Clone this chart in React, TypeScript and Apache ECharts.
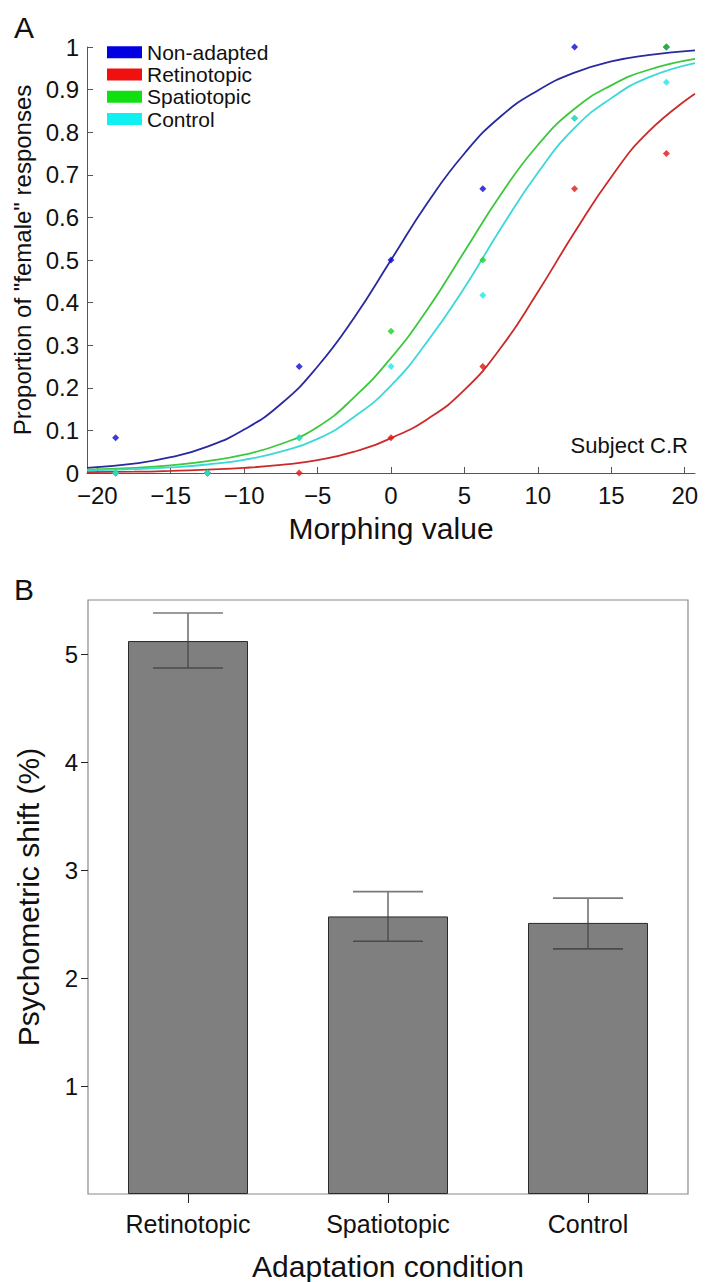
import React, { useEffect, useRef } from 'react';
import * as echarts from 'echarts';

// ---------- Panel A data ----------
const morphX = [-18.75, -12.5, -6.25, 0, 6.25, 12.5, 18.75];
const nonAdaptedPts = [0.083, 0, 0.25, 0.5, 0.667, 1.0, 1.0];
const retinotopicPts = [0, 0, 0, 0.083, 0.25, 0.667, 0.75];
const spatiotopicPts = [0, 0, 0.083, 0.333, 0.5, 0.833, 1.0];
const controlPts = [0, 0, 0.083, 0.25, 0.417, 0.833, 0.917];

const fitX = [-20.7, -17.5, -15, -12.5, -10, -7.5, -5, -2.5, 0, 2.5, 5, 7.5, 10, 12.5, 15, 17.5, 20.7];
const nonAdaptedFit = [0.012, 0.022, 0.037, 0.062, 0.102, 0.162, 0.25, 0.365, 0.5, 0.635, 0.75, 0.838, 0.898, 0.94, 0.966, 0.981, 0.992];
const retinotopicFit = [0.002, 0.003, 0.005, 0.008, 0.012, 0.019, 0.03, 0.05, 0.082, 0.127, 0.195, 0.295, 0.425, 0.565, 0.695, 0.8, 0.89];
const spatiotopicFit = [0.008, 0.012, 0.018, 0.028, 0.043, 0.068, 0.108, 0.178, 0.27, 0.385, 0.52, 0.655, 0.77, 0.855, 0.91, 0.946, 0.972];
const controlFit = [0.006, 0.009, 0.013, 0.02, 0.031, 0.05, 0.08, 0.132, 0.205, 0.31, 0.435, 0.575, 0.705, 0.81, 0.88, 0.928, 0.962];

const morphTicks = [-20, -15, -10, -5, 0, 5, 10, 15, 20];
const legendNames = ['Non-adapted', 'Retinotopic', 'Spatiotopic', 'Control'];

// ---------- Panel B data ----------
const conditions = ['Retinotopic', 'Spatiotopic', 'Control'];
const shiftMeans = [5.12, 2.57, 2.51];
const shiftLow = [4.87, 2.34, 2.27];
const shiftHigh = [5.38, 2.8, 2.74];
const shiftTicks = [1, 2, 3, 4, 5];

const FONT = '"Liberation Sans", Arial, Helvetica, sans-serif';

const lineColors = ['#2a2aa0', '#cc2a2a', '#3cc83c', '#3cd8d8'];
const pointColors = ['#0a0acc', '#e01414', '#20d020', '#22e6e6'];
const legendColors = ['#0000e0', '#f01010', '#10e010', '#10f0f0'];

export default function App() {
  const ref = useRef<HTMLDivElement>(null);
  useEffect(() => {
    document.body.style.margin = '0';
    const chart = echarts.init(ref.current!, null, { renderer: 'svg' });
    const fits = [nonAdaptedFit, retinotopicFit, spatiotopicFit, controlFit];
    const pts = [nonAdaptedPts, retinotopicPts, spatiotopicPts, controlPts];

    const lineSeries = legendNames.map((name, i) => ({
      name,
      type: 'line',
      xAxisIndex: 0,
      yAxisIndex: 0,
      data: fitX.map((x, j) => [x, fits[i][j]]),
      showSymbol: false,
      smooth: 0.5,
      lineStyle: { color: lineColors[i], width: 1.8 },
      itemStyle: { color: lineColors[i] },
      z: 2,
    }));
    const scatterSeries = legendNames.map((name, i) => ({
      name: name + ' data',
      type: 'scatter',
      xAxisIndex: 0,
      yAxisIndex: 0,
      data: morphX.map((x, j) => [x, pts[i][j]]),
      symbol: 'diamond',
      symbolSize: 7,
      itemStyle: { color: pointColors[i] },
      z: 3,
      clip: false,
    }));

    const option: any = {
      animation: false,
      textStyle: { fontFamily: FONT },
      legend: {
        data: legendNames.map((n, i) => ({ name: n, itemStyle: { color: legendColors[i] } })),
        orient: 'vertical',
        left: 107,
        top: 41,
        padding: 0,
        icon: 'rect',
        itemWidth: 35,
        itemHeight: 12,
        itemGap: 0,
        textStyle: { fontSize: 21, color: '#111', fontFamily: FONT, lineHeight: 22.3 },
        selectedMode: false,
      },
      grid: [
        { left: 87, top: 47, width: 608, height: 426, show: false },
        { left: 88, top: 600, width: 600, height: 595, show: true, borderColor: '#8a8a8a', borderWidth: 1.2, backgroundColor: 'transparent' },
      ],
      xAxis: [
        {
          type: 'value',
          gridIndex: 0,
          min: -20.7,
          max: 20.7,
          axisLine: { show: true, onZero: false, lineStyle: { color: '#555', width: 1 } },
          axisTick: { show: true, inside: true, length: 6, customValues: morphTicks, lineStyle: { color: '#555' } },
          axisLabel: {
            customValues: morphTicks,
            fontSize: 24,
            color: '#111',
            margin: 10,
            fontFamily: FONT,
            formatter: (v: number) => String(v).replace('-', '\u2212'),
          },
          splitLine: { show: false },
          name: 'Morphing value',
          nameLocation: 'middle',
          nameGap: 40,
          nameTextStyle: { fontSize: 30, color: '#111', fontFamily: FONT },
        },
        {
          type: 'category',
          gridIndex: 1,
          data: conditions,
          axisLine: { show: false },
          axisTick: { show: true, alignWithLabel: true, inside: false, length: 9, lineStyle: { color: '#222' } },
          axisLabel: { fontSize: 25, color: '#111', margin: 17, fontFamily: FONT },
          splitLine: { show: false },
          name: 'Adaptation condition',
          nameLocation: 'middle',
          nameGap: 57,
          nameTextStyle: { fontSize: 30, color: '#111', fontFamily: FONT },
        },
      ],
      yAxis: [
        {
          type: 'value',
          gridIndex: 0,
          min: 0,
          max: 1,
          interval: 0.1,
          axisLine: { show: true, onZero: false, lineStyle: { color: '#555', width: 1 } },
          axisTick: { show: true, inside: true, length: 6, lineStyle: { color: '#555' } },
          axisLabel: { fontSize: 24, color: '#111', margin: 8, fontFamily: FONT },
          splitLine: { show: false },
          name: 'Proportion of "female" responses',
          nameLocation: 'middle',
          nameGap: 47,
          nameTextStyle: { fontSize: 24, color: '#111', fontFamily: FONT },
        },
        {
          type: 'value',
          gridIndex: 1,
          min: 0,
          max: 5.5,
          axisLine: { show: false, onZero: false },
          axisTick: { show: true, inside: false, length: 7, customValues: shiftTicks, lineStyle: { color: '#222' } },
          axisLabel: { customValues: shiftTicks, fontSize: 24, color: '#111', margin: 10, fontFamily: FONT },
          splitLine: { show: false },
          name: 'Psychometric shift (%)',
          nameLocation: 'middle',
          nameGap: 45,
          nameTextStyle: { fontSize: 30, color: '#111', fontFamily: FONT },
        },
      ],
      series: [
        ...lineSeries,
        ...scatterSeries,
        {
          name: 'shift',
          type: 'bar',
          xAxisIndex: 1,
          yAxisIndex: 1,
          data: shiftMeans,
          barWidth: 120,
          itemStyle: { color: '#7f7f7f', borderColor: '#2a2a2a', borderWidth: 1 },
          z: 2,
        },
        {
          name: 'error',
          type: 'custom',
          xAxisIndex: 1,
          yAxisIndex: 1,
          data: conditions.map((_, i) => [i, shiftLow[i], shiftHigh[i]]),
          encode: { x: 0, y: [1, 2] },
          z: 5,
          renderItem: (params: any, api: any) => {
            const i = api.value(0);
            const lo = api.coord([i, api.value(1)]);
            const hi = api.coord([i, api.value(2)]);
            const half = 35;
            return {
              type: 'group',
              children: [
                { type: 'line', shape: { x1: lo[0], y1: lo[1], x2: hi[0], y2: hi[1] }, style: { stroke: '#444', lineWidth: 1.2 } },
                { type: 'line', shape: { x1: hi[0] - half, y1: hi[1], x2: hi[0] + half, y2: hi[1] }, style: { stroke: '#7a7a7a', lineWidth: 1.6 } },
                { type: 'line', shape: { x1: lo[0] - half, y1: lo[1], x2: lo[0] + half, y2: lo[1] }, style: { stroke: '#4a4a4a', lineWidth: 1.6 } },
              ],
            };
          },
        },
      ],
      graphic: [
        { type: 'text', left: 14, top: 12, style: { text: 'A', fontSize: 30, fill: '#111', fontFamily: FONT } },
        { type: 'text', left: 14, top: 574, style: { text: 'B', fontSize: 30, fill: '#111', fontFamily: FONT } },
        { type: 'text', right: 24, top: 434, style: { text: 'Subject C.R', fontSize: 22, fill: '#111', fontFamily: FONT } },
      ],
    };
    chart.setOption(option);
    return () => chart.dispose();
  }, []);
  return <div ref={ref} style={{ width: 712, height: 1282 }} />;
}
